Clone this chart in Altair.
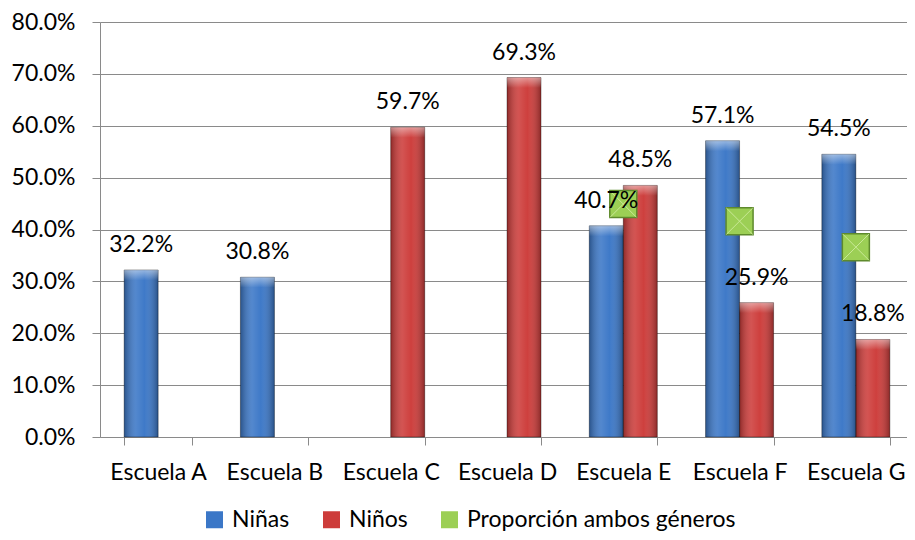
import altair as alt
import pandas as pd

schools = ["Escuela A", "Escuela B", "Escuela C", "Escuela D", "Escuela E", "Escuela F", "Escuela G"]
ninas = [0.322, 0.308, None, None, 0.407, 0.571, 0.545]
ninos = [None, None, 0.597, 0.693, 0.485, 0.259, 0.188]
ambos = [None, None, None, None, 0.449, 0.416, 0.366]
series = ["Niñas", "Niños", "Proporción ambos géneros"]
colors = ["#3b77c7", "#cd3c3a", "#9ccf55"]
y_ticks = [0.0, 0.1, 0.2, 0.3, 0.4, 0.5, 0.6, 0.7, 0.8]

bar_rows = []
for s, a, b in zip(schools, ninas, ninos):
    if a is not None:
        bar_rows.append({"escuela": s, "serie": series[0], "valor": a})
    if b is not None:
        bar_rows.append({"escuela": s, "serie": series[1], "valor": b})
bars_df = pd.DataFrame(bar_rows)

mark_rows = [{"escuela": s, "serie": series[2], "valor": v} for s, v in zip(schools, ambos) if v is not None]
marks_df = pd.DataFrame(mark_rows)

FONT = "Lato"
FS = 23
GRID = "#8a8a8a"

x_enc = alt.X(
    "escuela:N",
    sort=schools,
    scale=alt.Scale(domain=schools, range=[0, 814], paddingInner=0.415, paddingOuter=0.2075),
    axis=alt.Axis(
        title=None, labelAngle=0, domainColor=GRID, tickColor=GRID, tickSize=8,
        tickBand="extent", labelPadding=16, labelFontSize=FS, labelFont=FONT,
        labelColor="black", grid=False, labelLimit=0,
    ),
)
y_enc = alt.Y(
    "valor:Q",
    scale=alt.Scale(domain=[0, 0.8], nice=False),
    axis=alt.Axis(
        values=y_ticks, format=".1%", title=None, grid=True, gridColor=GRID,
        gridWidth=1.2, domainColor=GRID, tickColor=GRID, tickSize=8, labelPadding=17,
        labelFontSize=FS, labelFont=FONT, labelColor="black",
    ),
)
xoff = alt.XOffset("serie:N", scale=alt.Scale(domain=series[:2], paddingInner=0, paddingOuter=0))
color_enc = alt.Color(
    "serie:N",
    scale=alt.Scale(domain=series, range=colors),
    legend=alt.Legend(
        orient="none", legendX=103, legendY=486, direction="horizontal", title=None,
        symbolType="square", symbolSize=289, labelFontSize=FS, labelFont=FONT,
        labelColor="black", columnPadding=30, labelOffset=6, symbolStrokeWidth=0,
        labelLimit=0,
    ),
)

bars = alt.Chart(bars_df).mark_bar().encode(x=x_enc, y=y_enc, xOffset=xoff, color=color_enc)

shade = alt.LinearGradient(
    gradient="linear", x1=0, x2=1, y1=0, y2=0,
    stops=[
        alt.GradientStop(color="rgba(0,0,0,0.30)", offset=0),
        alt.GradientStop(color="rgba(255,255,255,0.12)", offset=0.35),
        alt.GradientStop(color="rgba(255,255,255,0.02)", offset=0.6),
        alt.GradientStop(color="rgba(0,0,0,0.32)", offset=1),
    ],
)
overlay = alt.Chart(bars_df).mark_bar(color=shade, stroke="rgba(0,0,0,0.35)", strokeWidth=1).encode(
    x=x_enc, y=y_enc, xOffset=xoff
)

cap_grad = alt.LinearGradient(
    gradient="linear", x1=0, x2=0, y1=0, y2=1,
    stops=[
        alt.GradientStop(color="rgba(255,255,255,0.45)", offset=0),
        alt.GradientStop(color="rgba(255,255,255,0.0)", offset=1),
    ],
)
cap = alt.Chart(bars_df).transform_calculate(cap="datum.valor - 0.02").mark_bar(color=cap_grad).encode(
    x=x_enc, y=y_enc, y2="cap:Q", xOffset=xoff
)

squares = alt.Chart(marks_df).mark_square(size=729, opacity=1, stroke="#5e8a2c", strokeWidth=1.5).encode(
    x=x_enc, y=y_enc, color=color_enc
)
cross = alt.Chart(marks_df).mark_point(
    shape="M-1,-1L1,1M1,-1L-1,1", size=700, stroke="#d6f0a8", strokeWidth=1, opacity=0.8, filled=False
).encode(x=x_enc, y=y_enc)

labels = alt.Chart(bars_df).mark_text(
    baseline="middle", dy=-25, font=FONT, fontSize=FS, color="black"
).encode(x=x_enc, y=y_enc, xOffset=xoff, text=alt.Text("valor:Q", format=".1%"))

chart = (
    alt.layer(bars, overlay, cap, squares, cross, labels)
    .properties(
        width=807, height=415,
        autosize=alt.AutoSizeParams(type="none"),
        padding={"left": 92, "top": 14, "right": 0, "bottom": 95},
        background="white",
    )
    .configure_view(stroke=None)
)

chart.save("out.html", embed_options={"renderer": "svg", "actions": False})
